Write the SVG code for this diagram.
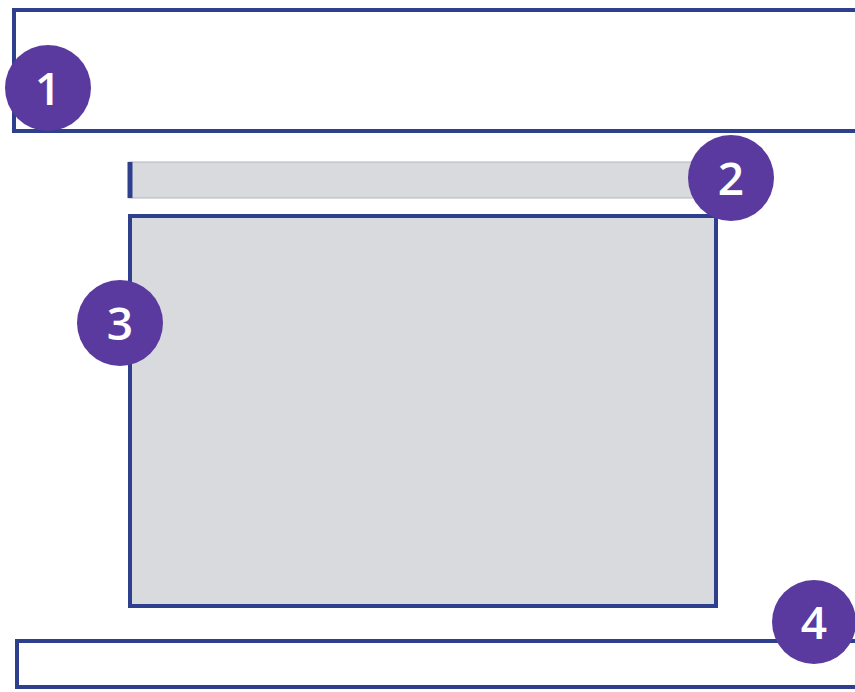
<svg xmlns="http://www.w3.org/2000/svg" width="855" height="692" viewBox="0 0 855 692">
<style>
.frame{fill:#ffffff;stroke:#2e3f8e;stroke-width:4}
.panel{fill:#d9dadd;stroke:#2e3f8e;stroke-width:4}
.badge circle{fill:#5a3a9f}
.badge text{fill:#ffffff;font-family:"Open Sans","DejaVu Sans",sans-serif;font-size:46px;font-weight:600;text-anchor:middle}
</style>
<rect width="855" height="692" fill="#ffffff"/>
<g id="node1">
<rect class="frame" x="14" y="10" width="850" height="121"/>
</g>
<g id="node2">
<rect x="129" y="162" width="580" height="36" fill="#d9dadd" stroke="#b4b5bb" stroke-width="1"/>
<line x1="130" y1="162" x2="130" y2="198" stroke="#2e3f8e" stroke-width="5"/>
</g>
<g id="node3">
<rect class="panel" x="130" y="216" width="586" height="390"/>
</g>
<g id="node4">
<rect class="frame" x="17" y="641" width="850" height="46"/>
</g>
<g id="connectors"></g>
<g id="badge1" class="badge"><circle cx="48" cy="88" r="43"/><text x="48" y="105">1</text></g>
<g id="badge2" class="badge"><circle cx="731" cy="178" r="43"/><text x="731" y="195">2</text></g>
<g id="badge3" class="badge"><circle cx="120" cy="323" r="43"/><text x="120" y="340">3</text></g>
<g id="badge4" class="badge"><circle cx="814" cy="622" r="42"/><text x="814" y="639">4</text></g>
</svg>
